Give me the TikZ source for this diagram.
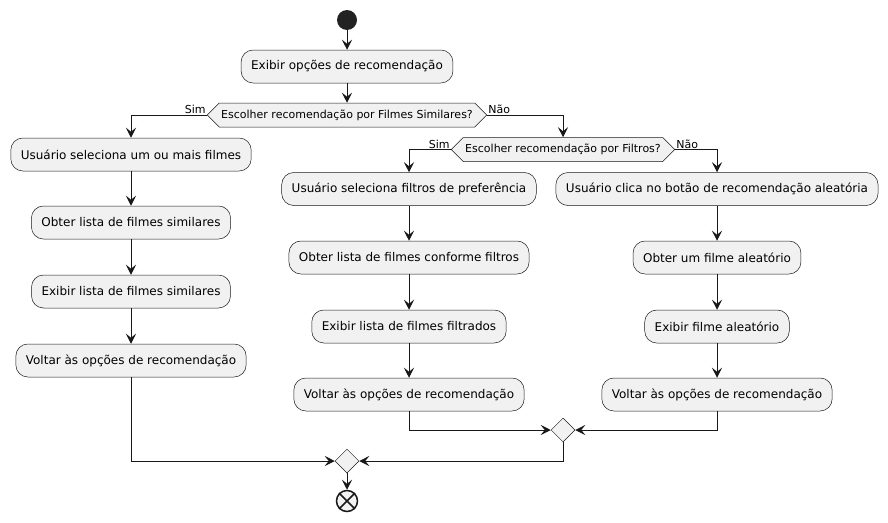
\documentclass[tikz,border=0pt]{standalone}
\usepackage{fontspec}
\setmainfont{DejaVu Sans}
\usepackage{tikz}
\usetikzlibrary{shapes.geometric,shapes.symbols,arrows.meta}
\definecolor{umlfill}{HTML}{F1F1F1}
\definecolor{umlline}{HTML}{181818}
\definecolor{umlstart}{HTML}{222222}

\begin{document}
\begin{tikzpicture}[
        x=1pt, y=-1pt,
        action/.style={rectangle, draw=umlline, fill=umlfill, line width=0.5pt, minimum height=33pt, inner xsep=10pt, rounded corners=12pt, font=\fontsize{12}{14}\selectfont},
        choice/.style={signal, signal to=west and east, signal pointer angle=90, draw=umlline, fill=umlfill, line width=0.5pt, minimum height=24pt, inner xsep=2pt, inner ysep=0pt, font=\fontsize{11}{13}\selectfont},
        merge/.style={diamond, draw=umlline, fill=umlfill, line width=0.5pt, minimum size=24pt, inner sep=0pt},
        branch/.style={font=\fontsize{11}{13}\selectfont, inner sep=1pt},
        arrow/.style={-{Stealth[length=10pt, width=10pt, inset=4pt]}, draw=umlline, line width=1pt}
    ]
        \useasboundingbox (0,0) rectangle (888,522);

        % ========== START ==========
        \node[circle, fill=umlstart, minimum size=20pt, inner sep=0pt] (start) at (347,20) {};
        \node[action] (showOptions) at (347,66.5) {Exibir opções de recomendação};
        \node[choice] (askSimilar) at (347,115) {Escolher recomendação por Filmes Similares?};

        \draw[arrow] (start.south) -- (showOptions.north);
        \draw[arrow] (showOptions.south) -- (askSimilar.north);

        % ========== SIMILAR MOVIES (Left Column) ==========
        \node[action] (pickMovies) at (131,154.5) {Usuário seleciona um ou mais filmes};
        \node[action] (getSimilar) at (131,222.5) {Obter lista de filmes similares};
        \node[action] (showSimilar) at (131,291.5) {Exibir lista de filmes similares};
        \node[action] (backSimilar) at (131,360.5) {Voltar às opções de recomendação};

        \draw[arrow] (askSimilar.west) -| (pickMovies.north);
        \draw[arrow] (pickMovies.south) -- (getSimilar.north);
        \draw[arrow] (getSimilar.south) -- (showSimilar.north);
        \draw[arrow] (showSimilar.south) -- (backSimilar.north);

        % ========== FILTERS (Middle Column) ==========
        \node[choice] (askFilters) at (563,149.5) {Escolher recomendação por Filtros?};
        \node[action] (pickFilters) at (409,189) {Usuário seleciona filtros de preferência};
        \node[action] (getFiltered) at (409,257.5) {Obter lista de filmes conforme filtros};
        \node[action] (showFiltered) at (409,326.5) {Exibir lista de filmes filtrados};
        \node[action] (backFiltered) at (409,394.5) {Voltar às opções de recomendação};

        \draw[arrow] (askSimilar.east) -| (askFilters.north);
        \draw[arrow] (askFilters.west) -| (pickFilters.north);
        \draw[arrow] (pickFilters.south) -- (getFiltered.north);
        \draw[arrow] (getFiltered.south) -- (showFiltered.north);
        \draw[arrow] (showFiltered.south) -- (backFiltered.north);

        % ========== RANDOM (Right Column) ==========
        \node[action] (clickRandom) at (717,189) {Usuário clica no botão de recomendação aleatória};
        \node[action] (getRandom) at (717,257.5) {Obter um filme aleatório};
        \node[action] (showRandom) at (717,326.5) {Exibir filme aleatório};
        \node[action] (backRandom) at (717,394.5) {Voltar às opções de recomendação};

        \draw[arrow] (askFilters.east) -| (clickRandom.north);
        \draw[arrow] (clickRandom.south) -- (getRandom.north);
        \draw[arrow] (getRandom.south) -- (showRandom.north);
        \draw[arrow] (showRandom.south) -- (backRandom.north);

        % ========== BRANCH LABELS ==========
        \node[branch, anchor=south east] at (askSimilar.west) {Sim};
        \node[branch, anchor=south west] at (askSimilar.east) {Não};
        \node[branch, anchor=south east] at (askFilters.west) {Sim};
        \node[branch, anchor=south west] at (askFilters.east) {Não};

        % ========== MERGES AND END ==========
        \node[merge] (mergeFilters) at (563,430) {};
        \node[merge] (mergeAll) at (347,461) {};
        \node[circle, draw=umlline, fill=umlfill, line width=1.5pt, minimum size=21pt, inner sep=0pt] (stop) at (347,501) {};

        \draw[arrow] (backFiltered.south) |- (mergeFilters.west);
        \draw[arrow] (backRandom.south) |- (mergeFilters.east);
        \draw[arrow] (mergeFilters.south) |- (mergeAll.east);
        \draw[arrow] (backSimilar.south) |- (mergeAll.west);
        \draw[arrow] (mergeAll.south) -- (stop.north);
        \draw[umlline, line width=1.5pt] (stop.45) -- (stop.225) (stop.135) -- (stop.315);

    \end{tikzpicture}
\end{document}
